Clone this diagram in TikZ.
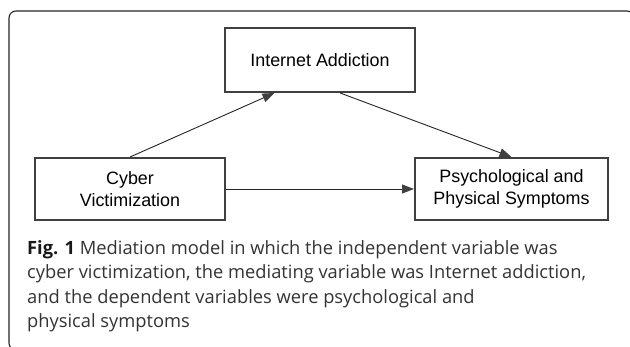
\documentclass[tikz,border=0pt]{standalone}
\usepackage{fontspec}
\setmainfont{Liberation Sans}
\newfontfamily\capfont{Open Sans}
\usetikzlibrary{arrows.meta,calc}
\definecolor{boxgray}{HTML}{404040}
\definecolor{capgray}{HTML}{333333}
\begin{document}
\begin{tikzpicture}[x=1pt,y=-1pt,
  varbox/.style={draw=boxgray,line width=2pt,rectangle,inner sep=0pt,
    minimum height=62pt,align=center,font=\fontsize{17.9}{22.5}\selectfont},
  conn/.style={line width=0.9pt,draw=black!85,
    -{Triangle[length=12pt,width=9pt,color=boxgray]}},
  capline/.style={anchor=base west,inner sep=0pt,text=capgray,
    font=\capfont\fontsize{18.3}{24}\selectfont}]
\useasboundingbox (0,0) rectangle (630,346);
\clip (0,0) rectangle (630,346);
\fill[white] (0,0) rectangle (630,346);
\draw[line width=1.1pt,draw=black!85,rounded corners=7pt] (9,11) rectangle (634,350);
\node[varbox,minimum width=190pt,minimum height=64pt] (ia) at (320,60) {Internet Addiction};
\node[varbox,minimum width=190pt] (cv) at (130,189) {Cyber\\Victimization};
\node[varbox,minimum width=193pt] (ps) at (511.5,189) {Psychological and\\Physical Symptoms};
\coordinate (iaIn) at ($(ia.south west)!0.263!(ia.south east)$);
\coordinate (iaOut) at ($(ia.south west)!0.605!(ia.south east)$);
\draw[conn] (cv.north) -- (iaIn);
\draw[conn] (iaOut) -- (ps.north);
\draw[conn] (cv.east) -- (ps.west);
\node[capline] (cap1) at (27,254) {\textbf{\color{black!90}Fig. 1} Mediation model in which the independent variable was};
\node[capline] (cap2) at (27,278.5) {cyber victimization, the mediating variable was Internet addiction,};
\node[capline] (cap3) at (27,303) {and the dependent variables were psychological and};
\node[capline] (cap4) at (27,327) {physical symptoms};
\end{tikzpicture}
\end{document}
